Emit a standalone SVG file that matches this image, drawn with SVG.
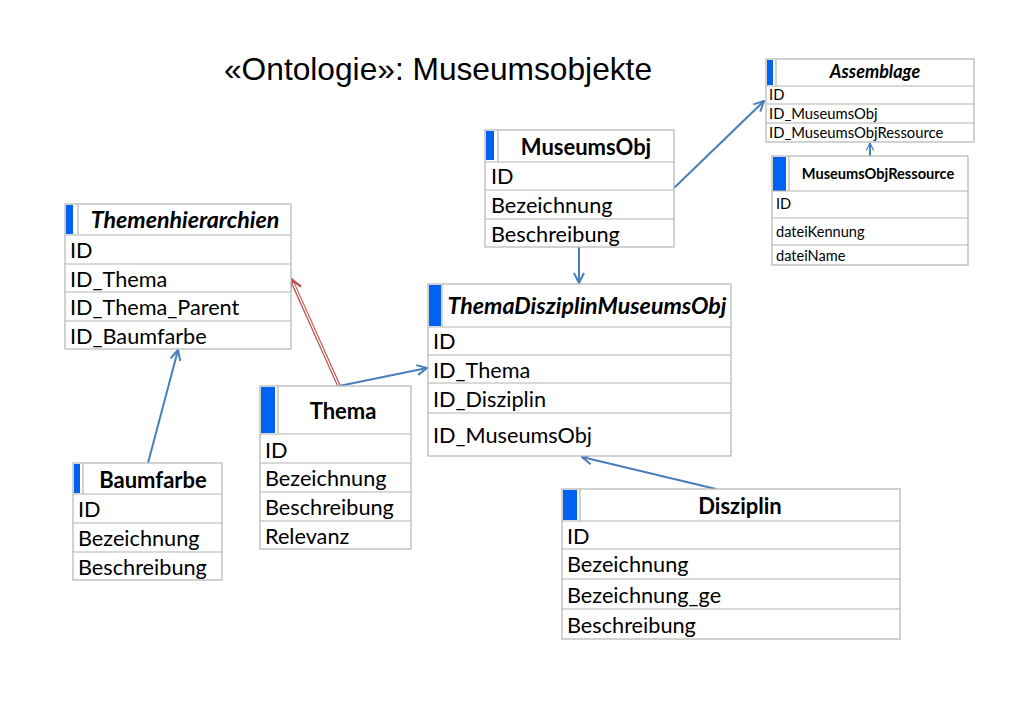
<svg xmlns="http://www.w3.org/2000/svg" width="1021" height="709" viewBox="0 0 1021 709">
<style>
.box{fill:#fff;stroke:#b4b4b4;stroke-width:1.2}
.sep{stroke:#b4b4b4;stroke-width:1.2}
.bar{fill:#0062f0}
.t{font-family:Lato,"Liberation Sans",sans-serif;fill:#000}
.h{font-weight:bold;text-anchor:middle}
.r{font-size:21.7px}
.hb{font-size:22px}
.i{font-style:italic;font-size:23.2px}
.s{font-size:14.8px}
.ai{font-size:18px}
.xs{font-size:14.6px}
.c{fill:none;stroke:#4a7ebb;stroke-width:2}
</style>
<defs>
<marker id="ab" viewBox="0 0 12 12" refX="11" refY="6" markerWidth="12" markerHeight="12" markerUnits="userSpaceOnUse" orient="auto"><path d="M1,1 L11,6 L1,11" fill="none" stroke="#4a7ebb" stroke-width="2"/></marker>
<marker id="abs" viewBox="0 0 12 12" refX="11" refY="6" markerWidth="9" markerHeight="9" markerUnits="userSpaceOnUse" orient="auto"><path d="M1,1 L11,6 L1,11" fill="none" stroke="#4a7ebb" stroke-width="1.6"/></marker>
<marker id="ar" viewBox="0 0 14 14" refX="12" refY="7" markerWidth="14" markerHeight="14" markerUnits="userSpaceOnUse" orient="auto"><path d="M1,1 L12,7 L1,13" fill="none" stroke="#c0504d" stroke-width="2.4"/></marker>
</defs>
<rect width="1021" height="709" fill="#fff"/>
<text x="224" y="80" font-family="Liberation Sans,Arial,sans-serif" font-size="31.7" fill="#000">«Ontologie»: Museumsobjekte</text>

<g id="connectors">
<line class="c" x1="674" y1="188" x2="764" y2="101" marker-end="url(#ab)"/>
<line class="c" x1="870" y1="156" x2="870" y2="143" stroke-width="1.4" marker-end="url(#abs)"/>
<line class="c" x1="579" y1="247" x2="579" y2="283" marker-end="url(#ab)"/>
<line class="c" x1="148" y1="463" x2="178" y2="350" marker-end="url(#ab)"/>
<line class="c" x1="339" y1="386" x2="427" y2="368" marker-end="url(#ab)"/>
<line class="c" x1="716" y1="489" x2="582" y2="457" marker-end="url(#ab)"/>
<line x1="339" y1="386" x2="291" y2="279" stroke="#c0504d" stroke-width="3.6"/>
<line x1="339" y1="386" x2="293" y2="283" stroke="#fff" stroke-width="1.3"/>
<path d="M339,386 L291,279" fill="none" stroke="#c0504d" stroke-width="0.01" marker-end="url(#ar)"/>
</g>

<g id="Assemblage">
<rect class="box" x="766" y="59" width="208" height="83"/>
<rect class="bar" x="767" y="60" width="6" height="25"/>
<line class="sep" x1="776" y1="59" x2="776" y2="86"/>
<line class="sep" x1="766" y1="86" x2="974" y2="86"/>
<line class="sep" x1="766" y1="104" x2="974" y2="104"/>
<line class="sep" x1="766" y1="123" x2="974" y2="123"/>
<text class="t h i ai" x="875" y="78">Assemblage</text>
<text class="t s" x="769" y="100">ID</text>
<text class="t s" x="769" y="119">ID_MuseumsObj</text>
<text class="t s" x="769" y="138">ID_MuseumsObjRessource</text>
</g>

<g id="MuseumsObjRessource">
<rect class="box" x="772" y="156" width="196" height="109"/>
<rect class="bar" x="773" y="157" width="13" height="34"/>
<line class="sep" x1="789" y1="156" x2="789" y2="191"/>
<line class="sep" x1="772" y1="191" x2="968" y2="191"/>
<line class="sep" x1="772" y1="218" x2="968" y2="218"/>
<line class="sep" x1="772" y1="245" x2="968" y2="245"/>
<text class="t h xs" x="878" y="179">MuseumsObjRessource</text>
<text class="t xs" x="776" y="209">ID</text>
<text class="t xs" x="776" y="237">dateiKennung</text>
<text class="t xs" x="776" y="261">dateiName</text>
</g>

<g id="MuseumsObj">
<rect class="box" x="485" y="130" width="189" height="117"/>
<rect class="bar" x="486" y="131" width="8" height="29"/>
<line class="sep" x1="498" y1="130" x2="498" y2="162"/>
<line class="sep" x1="485" y1="162" x2="674" y2="162"/>
<line class="sep" x1="485" y1="190" x2="674" y2="190"/>
<line class="sep" x1="485" y1="219" x2="674" y2="219"/>
<text class="t h hb" x="586" y="155">MuseumsObj</text>
<text class="t r" x="491" y="184">ID</text>
<text class="t r" x="491" y="213">Bezeichnung</text>
<text class="t r" x="491" y="242">Beschreibung</text>
</g>

<g id="ThemaDisziplinMuseumsObj">
<rect class="box" x="428" y="284" width="303" height="172"/>
<rect class="bar" x="429" y="285" width="12" height="41"/>
<line class="sep" x1="442" y1="284" x2="442" y2="327"/>
<line class="sep" x1="428" y1="327" x2="731" y2="327"/>
<line class="sep" x1="428" y1="355" x2="731" y2="355"/>
<line class="sep" x1="428" y1="383" x2="731" y2="383"/>
<line class="sep" x1="428" y1="413" x2="731" y2="413"/>
<text class="t h i" x="587" y="314">ThemaDisziplinMuseumsObj</text>
<text class="t r" x="433" y="349">ID</text>
<text class="t r" x="433" y="378">ID_Thema</text>
<text class="t r" x="433" y="407">ID_Disziplin</text>
<text class="t r" x="433" y="443">ID_MuseumsObj</text>
</g>

<g id="Themenhierarchien">
<rect class="box" x="65" y="204" width="226" height="145"/>
<rect class="bar" x="66" y="205" width="7" height="29"/>
<line class="sep" x1="78" y1="204" x2="78" y2="235"/>
<line class="sep" x1="65" y1="235" x2="291" y2="235"/>
<line class="sep" x1="65" y1="264" x2="291" y2="264"/>
<line class="sep" x1="65" y1="292" x2="291" y2="292"/>
<line class="sep" x1="65" y1="321" x2="291" y2="321"/>
<text class="t h i" x="185" y="228">Themenhierarchien</text>
<text class="t r" x="70" y="258">ID</text>
<text class="t r" x="70" y="287">ID_Thema</text>
<text class="t r" x="70" y="315">ID_Thema_Parent</text>
<text class="t r" x="70" y="344">ID_Baumfarbe</text>
</g>

<g id="Thema">
<rect class="box" x="260" y="386" width="151" height="163"/>
<rect class="bar" x="261" y="387" width="14" height="46"/>
<line class="sep" x1="278" y1="386" x2="278" y2="434"/>
<line class="sep" x1="260" y1="434" x2="411" y2="434"/>
<line class="sep" x1="260" y1="463" x2="411" y2="463"/>
<line class="sep" x1="260" y1="492" x2="411" y2="492"/>
<line class="sep" x1="260" y1="521" x2="411" y2="521"/>
<text class="t h hb" x="343" y="419">Thema</text>
<text class="t r" x="265" y="458">ID</text>
<text class="t r" x="265" y="486">Bezeichnung</text>
<text class="t r" x="265" y="515">Beschreibung</text>
<text class="t r" x="265" y="544">Relevanz</text>
</g>

<g id="Baumfarbe">
<rect class="box" x="73" y="463" width="149" height="117"/>
<rect class="bar" x="74" y="464" width="6" height="29"/>
<line class="sep" x1="83" y1="463" x2="83" y2="494"/>
<line class="sep" x1="73" y1="494" x2="222" y2="494"/>
<line class="sep" x1="73" y1="523" x2="222" y2="523"/>
<line class="sep" x1="73" y1="552" x2="222" y2="552"/>
<text class="t h hb" x="153" y="488">Baumfarbe</text>
<text class="t r" x="78" y="517">ID</text>
<text class="t r" x="78" y="546">Bezeichnung</text>
<text class="t r" x="78" y="575">Beschreibung</text>
</g>

<g id="Disziplin">
<rect class="box" x="562" y="489" width="338" height="150"/>
<rect class="bar" x="563" y="490" width="14" height="30"/>
<line class="sep" x1="580" y1="489" x2="580" y2="521"/>
<line class="sep" x1="562" y1="521" x2="900" y2="521"/>
<line class="sep" x1="562" y1="549" x2="900" y2="549"/>
<line class="sep" x1="562" y1="579" x2="900" y2="579"/>
<line class="sep" x1="562" y1="609" x2="900" y2="609"/>
<text class="t h hb" x="740" y="514">Disziplin</text>
<text class="t r" x="567" y="544">ID</text>
<text class="t r" x="567" y="572">Bezeichnung</text>
<text class="t r" x="567" y="603">Bezeichnung_ge</text>
<text class="t r" x="567" y="633">Beschreibung</text>
</g>
</svg>
